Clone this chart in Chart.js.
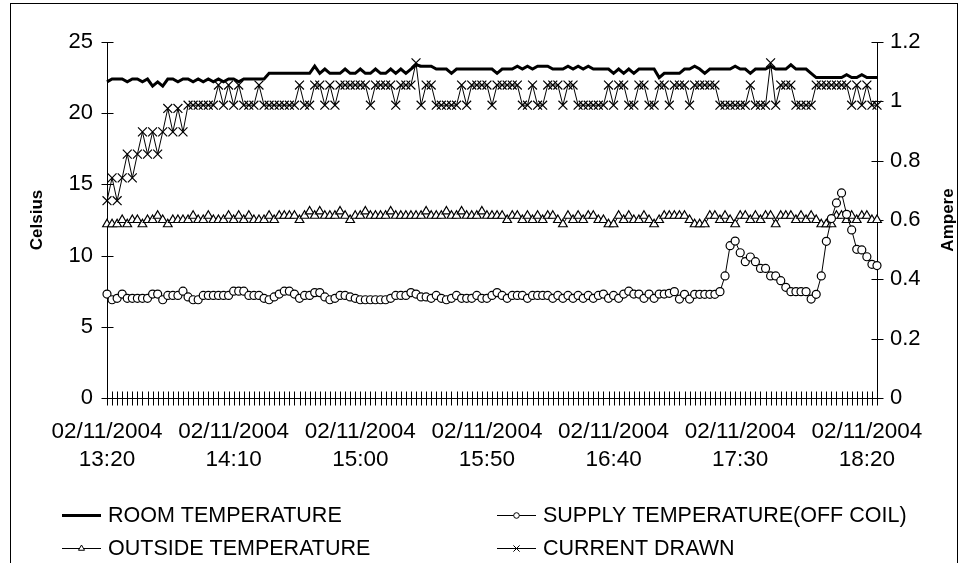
<!DOCTYPE html>
<html><head><meta charset="utf-8">
<script src="https://cdn.jsdelivr.net/npm/chart.js@4"></script>
<style>html,body{margin:0;padding:0;background:#fff}#wrap{width:967px;height:563px;position:relative}</style>
</head><body><div id="wrap"><canvas id="c"></canvas></div>
<script>
const dateLabel = "02/11/2004";
const startTime = "13:20";
const stepMinutes = 2;
const pointCount = 153;
const tickLabels = ["13:20","14:10","15:00","15:50","16:40","17:30","18:20"];
const leftTicks = [0,5,10,15,20,25];
const rightTicks = [0,0.2,0.4,0.6,0.8,1.0,1.2];

const roomTemp = [
22.2,22.4,22.4,22.4,22.2,22.4,22.4,22.2,22.4,21.9,
22.2,21.9,22.4,22.4,22.2,22.4,22.4,22.2,22.4,22.2,
22.4,22.2,22.4,22.2,22.4,22.4,22.2,22.4,22.4,22.4,
22.4,22.4,22.8,22.8,22.8,22.8,22.8,22.8,22.8,22.8,
22.8,23.3,22.8,23.1,22.8,22.8,22.8,23.1,22.8,22.8,
23.1,22.8,22.8,23.1,22.8,22.8,23.1,22.8,23.1,22.8,
23.1,23.4,23.3,23.3,23.3,23.1,23.1,23.1,22.8,23.1,
23.1,23.1,23.1,23.1,23.1,23.1,23.1,22.8,23.1,23.1,
23.1,23.3,23.1,23.3,23.1,23.3,23.3,23.3,23.1,23.1,
23.1,23.3,23.1,23.3,23.1,23.3,23.1,23.1,23.1,23.1,
22.8,23.1,22.8,23.1,22.8,23.1,23.1,23.1,23.1,22.5,
22.8,22.8,22.8,22.8,23.1,23.1,23.3,23.1,22.8,23.1,
23.1,23.1,23.1,23.1,23.3,23.1,23.1,22.8,23.1,23.1,
23.1,23.3,23.1,23.1,23.1,23.4,23.1,23.1,23.1,22.8,
22.5,22.5,22.5,22.5,22.5,22.5,22.7,22.5,22.5,22.7,
22.5,22.5,22.5];

const supplyTemp = [
7.3,6.9,7.0,7.3,7.0,7.0,7.0,7.0,7.0,7.3,
7.3,6.9,7.2,7.2,7.2,7.5,7.1,6.9,6.9,7.2,
7.2,7.2,7.2,7.2,7.2,7.5,7.5,7.5,7.2,7.2,
7.2,7.0,6.9,7.1,7.3,7.5,7.5,7.3,7.0,7.2,
7.2,7.4,7.4,7.1,6.9,7.0,7.2,7.2,7.1,7.0,
6.9,6.9,6.9,6.9,6.9,6.9,7.0,7.2,7.2,7.2,
7.4,7.3,7.1,7.1,7.0,7.2,7.0,6.9,7.0,7.2,
7.0,7.0,7.0,7.2,7.0,7.0,7.2,7.4,7.2,7.0,
7.2,7.2,7.2,7.0,7.2,7.2,7.2,7.2,7.0,7.2,
7.0,7.2,7.0,7.2,7.0,7.2,7.0,7.2,7.3,7.0,
7.2,7.0,7.3,7.5,7.3,7.3,7.0,7.3,7.0,7.3,
7.3,7.35,7.47,6.95,7.28,6.95,7.28,7.28,7.28,7.28,
7.28,7.47,8.57,10.7,11.02,10.2,9.57,9.9,9.57,9.1,
9.1,8.57,8.57,8.24,7.77,7.47,7.47,7.47,7.47,6.95,
7.28,8.57,11.0,12.6,13.7,14.4,12.9,11.8,10.44,10.4,
9.92,9.39,9.3];

const outsideTemp = [
12.2,12.2,12.2,12.5,12.2,12.5,12.5,12.2,12.5,12.5,
12.8,12.5,12.2,12.5,12.5,12.5,12.5,12.8,12.5,12.5,
12.8,12.5,12.5,12.5,12.8,12.5,12.8,12.5,12.8,12.5,
12.5,12.5,12.8,12.5,12.8,12.8,12.8,12.8,12.5,12.8,
13.1,12.8,13.1,12.8,12.8,12.8,13.1,12.8,12.5,12.8,
12.8,13.1,12.8,12.8,12.8,12.8,13.1,12.8,12.8,12.8,
12.8,12.8,12.8,13.1,12.8,12.8,12.8,13.1,12.8,12.8,
13.1,12.8,12.8,12.8,13.1,12.8,12.8,12.8,12.8,12.5,
12.8,12.8,12.5,12.8,12.5,12.8,12.5,12.8,12.8,12.5,
12.2,12.8,12.5,12.8,12.5,12.8,12.8,12.5,12.5,12.2,
12.2,12.8,12.5,12.8,12.5,12.5,12.8,12.5,12.2,12.5,
12.8,12.8,12.8,12.8,12.8,12.5,12.2,12.2,12.2,12.8,
12.8,12.5,12.8,12.5,12.2,12.8,12.8,12.5,12.8,12.5,
12.8,12.8,12.2,12.8,12.8,12.8,12.5,12.8,12.5,12.8,
12.5,12.2,12.2,12.2,12.8,12.8,12.5,12.8,12.5,12.8,
12.8,12.5,12.5];

const currentDrawn = [
0.665,0.742,0.665,0.742,0.822,0.742,0.822,0.897,0.822,0.897,
0.822,0.897,0.976,0.897,0.976,0.897,0.987,0.987,0.987,0.987,
0.987,0.987,1.055,0.987,1.055,0.987,1.055,0.987,0.987,0.987,
1.055,0.987,0.987,0.987,0.987,0.987,0.987,0.987,1.055,0.987,
0.987,1.055,1.055,0.987,1.055,0.987,1.055,1.055,1.055,1.055,
1.055,1.055,0.987,1.055,1.055,1.055,1.055,0.987,1.055,1.055,
1.055,1.13,0.987,1.055,1.055,0.987,0.987,0.987,0.987,0.987,
1.055,0.987,1.055,1.055,1.055,1.055,0.987,1.055,1.055,1.055,
1.055,1.055,0.987,0.987,1.055,0.987,0.987,1.055,1.055,1.055,
0.987,1.055,1.055,0.987,0.987,0.987,0.987,0.987,0.987,1.055,
0.987,1.055,1.055,0.987,0.987,1.055,1.055,0.987,0.987,1.055,
1.055,0.987,1.055,1.055,1.055,0.987,1.055,1.055,1.055,1.055,
1.055,0.987,0.987,0.987,0.987,0.987,0.987,1.055,0.987,0.987,
0.987,1.13,0.987,1.055,1.055,1.055,0.987,0.987,0.987,0.987,
1.055,1.055,1.055,1.055,1.055,1.055,1.055,0.987,1.055,0.987,
1.055,0.987,0.987];

// category labels: clock times every 2 minutes from the start time
const times = [];
{
  const [h0, m0] = startTime.split(':').map(Number);
  for (let k = 0; k < pointCount; k++) {
    const t = h0 * 60 + m0 + k * stepMinutes;
    times.push(String(Math.floor(t / 60)).padStart(2, '0') + ':' + String(t % 60).padStart(2, '0'));
  }
}

const FONT = "'Liberation Sans', Arial, sans-serif";
const canvas = document.getElementById('c');
canvas.width = 967; canvas.height = 563;
canvas.style.width = '967px'; canvas.style.height = '563px';

const framePlugin = {
  id: 'frame',
  beforeDatasetsDraw(chart) {
    const {ctx, chartArea: a, scales} = chart;
    ctx.save();
    ctx.strokeStyle = '#000';
    ctx.lineWidth = 1;
    const L = Math.round(a.left) + 0.5, R = Math.round(a.right) + 0.5, B = Math.round(a.bottom) + 0.5, T = Math.round(a.top);
    ctx.beginPath();
    ctx.moveTo(L, T); ctx.lineTo(L, B);
    ctx.moveTo(R, T); ctx.lineTo(R, B);
    ctx.moveTo(L, B); ctx.lineTo(R, B);
    scales.y.ticks.forEach((t, i) => {
      const yy = Math.round(scales.y.getPixelForTick(i)) + 0.5;
      ctx.moveTo(L - 6, yy); ctx.lineTo(L + 6, yy);
    });
    scales.y1.ticks.forEach((t, i) => {
      const yy = Math.round(scales.y1.getPixelForTick(i)) + 0.5;
      ctx.moveTo(R - 6, yy); ctx.lineTo(R + 6, yy);
    });
    scales.x.ticks.forEach((t, i) => {
      const xx = Math.round(scales.x.getPixelForTick(i)) + 0.5;
      ctx.moveTo(xx, B - 7); ctx.lineTo(xx, B + 7);
    });
    ctx.stroke();
    ctx.restore();
  },
  afterDraw(chart) {
    const {ctx} = chart;
    ctx.save();
    ctx.strokeStyle = '#000';
    ctx.lineWidth = 1;
    ctx.strokeRect(10.5, 3.5, 947, 600);
    ctx.fillStyle = '#000';
    ctx.font = 'bold 17px ' + FONT;
    ctx.textAlign = 'center';
    ctx.textBaseline = 'middle';
    const midY = (chart.chartArea.top + chart.chartArea.bottom) / 2;
    ctx.save(); ctx.translate(37, midY); ctx.rotate(-Math.PI / 2); ctx.fillText('Celsius', 0, 0); ctx.restore();
    ctx.save(); ctx.translate(948, midY); ctx.rotate(-Math.PI / 2); ctx.fillText('Ampere', 0, 0); ctx.restore();
    const slots = [[62, 515], [497, 515], [62, 548], [497, 548]];
    ctx.font = '21.5px ' + FONT;
    ctx.textAlign = 'left';
    chart.data.datasets.forEach((ds, k) => {
      const [x0, y0] = slots[k];
      ctx.strokeStyle = '#000';
      ctx.lineWidth = ds.borderWidth;
      ctx.beginPath(); ctx.moveTo(x0, y0 + 0.5); ctx.lineTo(x0 + 39, y0 + 0.5); ctx.stroke();
      if (ds.pointRadius > 0) {
        ctx.fillStyle = '#fff';
        ctx.lineWidth = 1;
        Chart.helpers.drawPoint(ctx, {pointStyle: ds.pointStyle, radius: ds.pointRadius * 0.7, rotation: 0, borderWidth: 1}, x0 + 19.5, y0 + 0.5);
      }
      ctx.fillStyle = '#000';
      ctx.fillText(ds.label, x0 + 46, y0 + 1);
    });
    ctx.restore();
  }
};

new Chart(canvas, {
  type: 'line',
  data: {
    labels: times,
    datasets: [
      {label: 'ROOM TEMPERATURE', data: roomTemp, yAxisID: 'y', borderColor: '#000', borderWidth: 3, pointRadius: 0, tension: 0},
      {label: 'SUPPLY TEMPERATURE(OFF COIL)', data: supplyTemp, yAxisID: 'y', borderColor: '#000', borderWidth: 1,
        pointStyle: 'circle', pointRadius: 4, pointBackgroundColor: '#fff', pointBorderColor: '#000', pointBorderWidth: 1.2, tension: 0},
      {label: 'OUTSIDE TEMPERATURE', data: outsideTemp, yAxisID: 'y', borderColor: '#000', borderWidth: 1,
        pointStyle: 'triangle', pointRadius: 5, pointBackgroundColor: '#fff', pointBorderColor: '#000', pointBorderWidth: 1.2, tension: 0},
      {label: 'CURRENT DRAWN', data: currentDrawn, yAxisID: 'y1', borderColor: '#000', borderWidth: 1,
        pointStyle: 'crossRot', pointRadius: 6.3, pointBackgroundColor: '#fff', pointBorderColor: '#000', pointBorderWidth: 1.2, tension: 0}
    ]
  },
  options: {
    responsive: false,
    animation: false,
    devicePixelRatio: 1,
    layout: {padding: {top: 42, left: 0, right: 0, bottom: 75}},
    plugins: {legend: {display: false}, tooltip: {enabled: false}},
    elements: {line: {borderJoinStyle: 'miter'}},
    scales: {
      x: {
        type: 'category',
        offset: false,
        grid: {display: false, drawTicks: false},
        border: {display: false},
        ticks: {
          autoSkip: false, maxRotation: 0, minRotation: 0, padding: 20,
          color: '#000', font: {family: FONT, size: 22.5, lineHeight: 1.245},
          callback: (v, i) => tickLabels.includes(times[i]) ? [dateLabel, times[i]] : ''
        },
        afterFit: s => { s.height = 90; }
      },
      y: {
        position: 'left', min: 0, max: 25,
        grid: {display: false, drawTicks: false},
        border: {display: false},
        afterBuildTicks: s => { s.ticks = leftTicks.map(v => ({value: v})); },
        ticks: {padding: 14, color: '#000', font: {family: FONT, size: 22}},
        afterFit: s => { s.width = 107; }
      },
      y1: {
        position: 'right', min: 0, max: 1.2,
        grid: {display: false, drawTicks: false},
        border: {display: false},
        afterBuildTicks: s => { s.ticks = rightTicks.map(v => ({value: v})); },
        ticks: {padding: 13, color: '#000', font: {family: FONT, size: 22},
          callback: v => (v === 0 || v === 1) ? String(v) : String(Math.round(v * 10) / 10)},
        afterFit: s => { s.width = 90; }
      }
    }
  },
  plugins: [framePlugin]
});
</script></body></html>
